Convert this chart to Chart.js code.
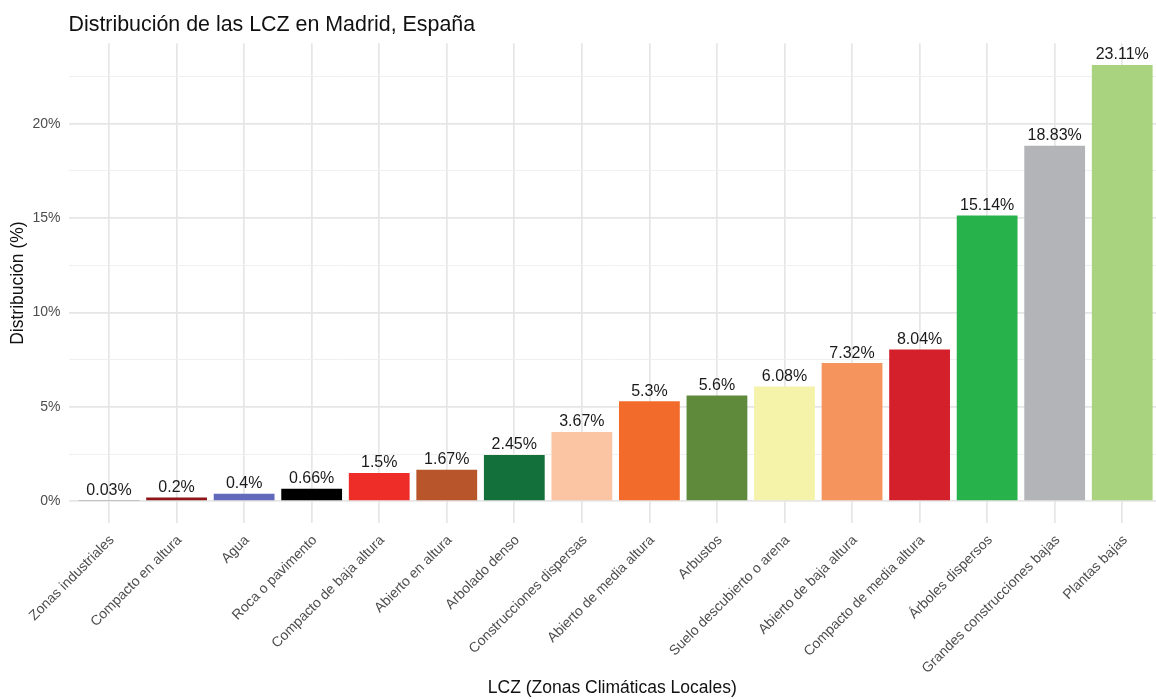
<!DOCTYPE html>
<html lang="es">
<head>
<meta charset="utf-8">
<title>Distribución de las LCZ en Madrid, España</title>
<script src="https://cdn.jsdelivr.net/npm/chart.js@4/dist/chart.umd.min.js"></script>
<style>
  html, body { margin: 0; padding: 0; background: #ffffff; }
  #wrap { position: relative; width: 1156px; height: 699px; }
</style>
</head>
<body>
<div id="wrap"><canvas id="chartLCZ"></canvas></div>
<script>
// Clases LCZ ordenadas por superficie (%)
const categorias = ['Zonas industriales', 'Compacto en altura', 'Agua', 'Roca o pavimento', 'Compacto de baja altura', 'Abierto en altura', 'Arbolado denso', 'Construcciones dispersas', 'Abierto de media altura', 'Arbustos', 'Suelo descubierto o arena', 'Abierto de baja altura', 'Compacto de media altura', 'Árboles dispersos', 'Grandes construcciones bajas', 'Plantas bajas'];
const porcentajes = [0.03, 0.2, 0.4, 0.66, 1.5, 1.67, 2.45, 3.67, 5.3, 5.6, 6.08, 7.32, 8.04, 15.14, 18.83, 23.11];
const colores = ['#555555', '#8e1418', '#6268ba', '#000000', '#ee2c28', '#b9552a', '#14703a', '#fbc4a2', '#f26b2b', '#5f8a3c', '#f5f2aa', '#f5955d', '#d3202a', '#27b24b', '#b2b4b7', '#a9d37f'];
const ticksY = [0, 2.5, 5, 7.5, 10, 12.5, 15, 17.5, 20, 22.5];

const FUENTE = "'Liberation Sans', Arial, Helvetica, sans-serif";
const gridMayor = '#e6e6e6', gridMenor = '#eeeeee';
const maxY = Math.max(...porcentajes);

// etiqueta de valor encima de cada barra (como geom_text con vjust = -0.5)
const etiquetasBarras = {
  id: 'etiquetasBarras',
  afterDatasetsDraw(chart) {
    const ctx = chart.ctx;
    const meta = chart.getDatasetMeta(0);
    ctx.save();
    ctx.font = '16px ' + FUENTE;
    ctx.fillStyle = '#1a1a1a';
    ctx.textAlign = 'center';
    ctx.textBaseline = 'alphabetic';
    meta.data.forEach((bar, i) => {
      ctx.fillText(porcentajes[i] + '%', bar.x, bar.y - 5.5);
    });
    ctx.restore();
  }
};

new Chart(document.getElementById('chartLCZ'), {
  type: 'bar',
  data: {
    datasets: [{
      data: porcentajes.map((v, i) => ({ x: i + 1, y: v })),
      backgroundColor: colores,
      borderWidth: 0,
      barPercentage: 0.9,
      categoryPercentage: 1.0
    }]
  },
  options: {
    responsive: true,
    maintainAspectRatio: false,
    animation: false,
    layout: { padding: 0 },
    plugins: {
      legend: { display: false },
      tooltip: { enabled: false },
      title: {
        display: true,
        text: 'Distribución de las LCZ en Madrid, España',
        align: 'start',
        fullSize: false,
        color: '#111111',
        font: { family: FUENTE, size: 21.4, weight: 'normal' },
        padding: { top: 12, bottom: 5.5 }
      }
    },
    scales: {
      x: {
        type: 'linear',
        offset: false,
        min: 0.4,
        max: 16.5,
        afterBuildTicks: axis => { axis.ticks = categorias.map((c, i) => ({ value: i + 1 })); },
        afterFit: scale => { scale.height = 176; },
        border: { display: false },
        grid: { color: gridMayor, lineWidth: 1.7, drawTicks: false, offset: false },
        ticks: {
          autoSkip: false,
          minRotation: 45,
          maxRotation: 45,
          padding: 9,
          labelOffset: 3,
          color: '#4d4d4d',
          font: { family: FUENTE, size: 14 },
          callback: v => categorias[v - 1] || ''
        },
        title: {
          display: true,
          text: 'LCZ (Zonas Climáticas Locales)',
          color: '#111111',
          font: { family: FUENTE, size: 17.5 },
          padding: { top: 0, bottom: 0.5 }
        }
      },
      y: {
        min: -maxY * 0.05,
        max: maxY * 1.05,
        afterBuildTicks: axis => { axis.ticks = ticksY.map(v => ({ value: v })); },
        afterFit: scale => { scale.width = 68.5; },
        border: { display: false },
        grid: {
          drawTicks: false,
          color: c => (c.tick && c.tick.value % 5 === 0) ? gridMayor : gridMenor,
          lineWidth: c => (c.tick && c.tick.value % 5 === 0) ? 1.7 : 0.9
        },
        ticks: {
          padding: 8,
          color: '#4d4d4d',
          font: { family: FUENTE, size: 14 },
          callback: v => v % 5 === 0 ? v + '%' : ''
        },
        title: {
          display: true,
          text: 'Distribución (%)',
          color: '#111111',
          font: { family: FUENTE, size: 17.5 },
          padding: { top: 7.5, bottom: 0 }
        }
      }
    }
  },
  plugins: [etiquetasBarras]
});
</script>
</body>
</html>
